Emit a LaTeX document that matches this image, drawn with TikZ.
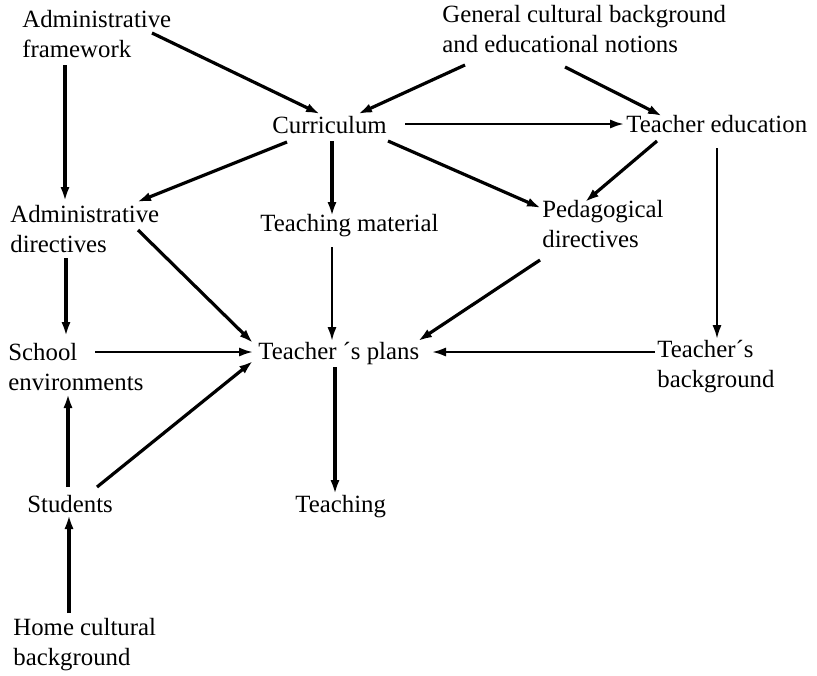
\documentclass[tikz,border=0pt]{standalone}
\usepackage{fontspec}
\setmainfont{Liberation Serif}
\usetikzlibrary{arrows.meta}
\begin{document}
\begin{tikzpicture}[x=0.5pt,y=-0.5pt,
  lbl/.style={anchor=base west, inner sep=0pt, align=left,
              font=\fontsize{12.4}{15}\selectfont},
  flow/.style={draw, line width=1.6pt, -{Latex[length=7pt,width=4.6pt]}},
  thinflow/.style={flow, line width=1.2pt}]
\useasboundingbox (0,0) rectangle (817,675);

% labels, placed by the baseline of their last line
\node[lbl] (af)  at (22,57)   {Administrative\\framework};
\node[lbl] (gen) at (442,52)  {General cultural background\\and educational notions};
\node[lbl] (cur) at (272,133) {Curriculum};
\node[lbl] (ted) at (626,132) {Teacher education};
\node[lbl] (ad)  at (10,252)  {Administrative\\directives};
\node[lbl] (tm)  at (260,231) {Teaching material};
\node[lbl] (pd)  at (542,247) {Pedagogical\\directives};
\node[lbl] (sch) at (8,390)   {School\\environments};
\node[lbl] (tp)  at (258,359) {Teacher ´s plans};
\node[lbl] (tb)  at (657,387) {Teacher´s\\background};
\node[lbl] (st)  at (27,512)  {Students};
\node[lbl] (tg)  at (295,512) {Teaching};
\node[lbl] (hm)  at (13,665)  {Home cultural\\background};

% influences between the factors
\draw[flow] ([shift={(130,-24)}]af.base west) -- ([shift={(48,-19)}]cur.base west);
\draw[flow] ([shift={(43,8)}]af.base west) -- ([shift={(55,-51)}]ad.base west);
\draw[flow] ([shift={(23,13)}]gen.base west) -- ([shift={(86,-19)}]cur.base west);
\draw[flow] ([shift={(123,15)}]gen.base west) -- ([shift={(36,-16)}]ted.base west);
\draw[thinflow] ([shift={(133,-9)}]cur.base west) -- ([shift={(-2,-8)}]ted.base west);
\draw[flow] ([shift={(15,9)}]cur.base west) -- ([shift={(127,-50)}]ad.base west);
\draw[flow] ([shift={(60,8)}]cur.base west) -- ([shift={(72,-15)}]tm.base west);
\draw[flow] ([shift={(116,8)}]cur.base west) -- ([shift={(-1,-39)}]pd.base west);
\draw[flow] ([shift={(31,9)}]ted.base west) -- ([shift={(43,-45)}]pd.base west);
\draw[thinflow] ([shift={(91,16)}]ted.base west) -- ([shift={(60,-48)}]tb.base west);
\draw[flow] ([shift={(128,-22)}]ad.base west) -- ([shift={(-5,-16)}]tp.base west);
\draw[thinflow] ([shift={(72,16)}]tm.base west) -- ([shift={(74,-18)}]tp.base west);
\draw[flow] ([shift={(-2,13)}]pd.base west) -- ([shift={(160,-18)}]tp.base west);
\draw[thinflow] ([shift={(-2,-35)}]tb.base west) -- ([shift={(174,-7)}]tp.base west);
\draw[flow] ([shift={(56,6)}]ad.base west) -- ([shift={(58,-54)}]sch.base west);
\draw[thinflow] ([shift={(87,-38)}]sch.base west) -- ([shift={(-5,-7)}]tp.base west);
\draw[flow] ([shift={(70,-25)}]st.base west) -- ([shift={(-5,2)}]tp.base west);
\draw[flow] ([shift={(41,-25)}]st.base west) -- ([shift={(60,4)}]sch.base west);
\draw[flow] ([shift={(56,-52)}]hm.base west) -- ([shift={(42,3)}]st.base west);
\draw[flow] ([shift={(77,8)}]tp.base west) -- ([shift={(40,-18)}]tg.base west);
\end{tikzpicture}
\end{document}
